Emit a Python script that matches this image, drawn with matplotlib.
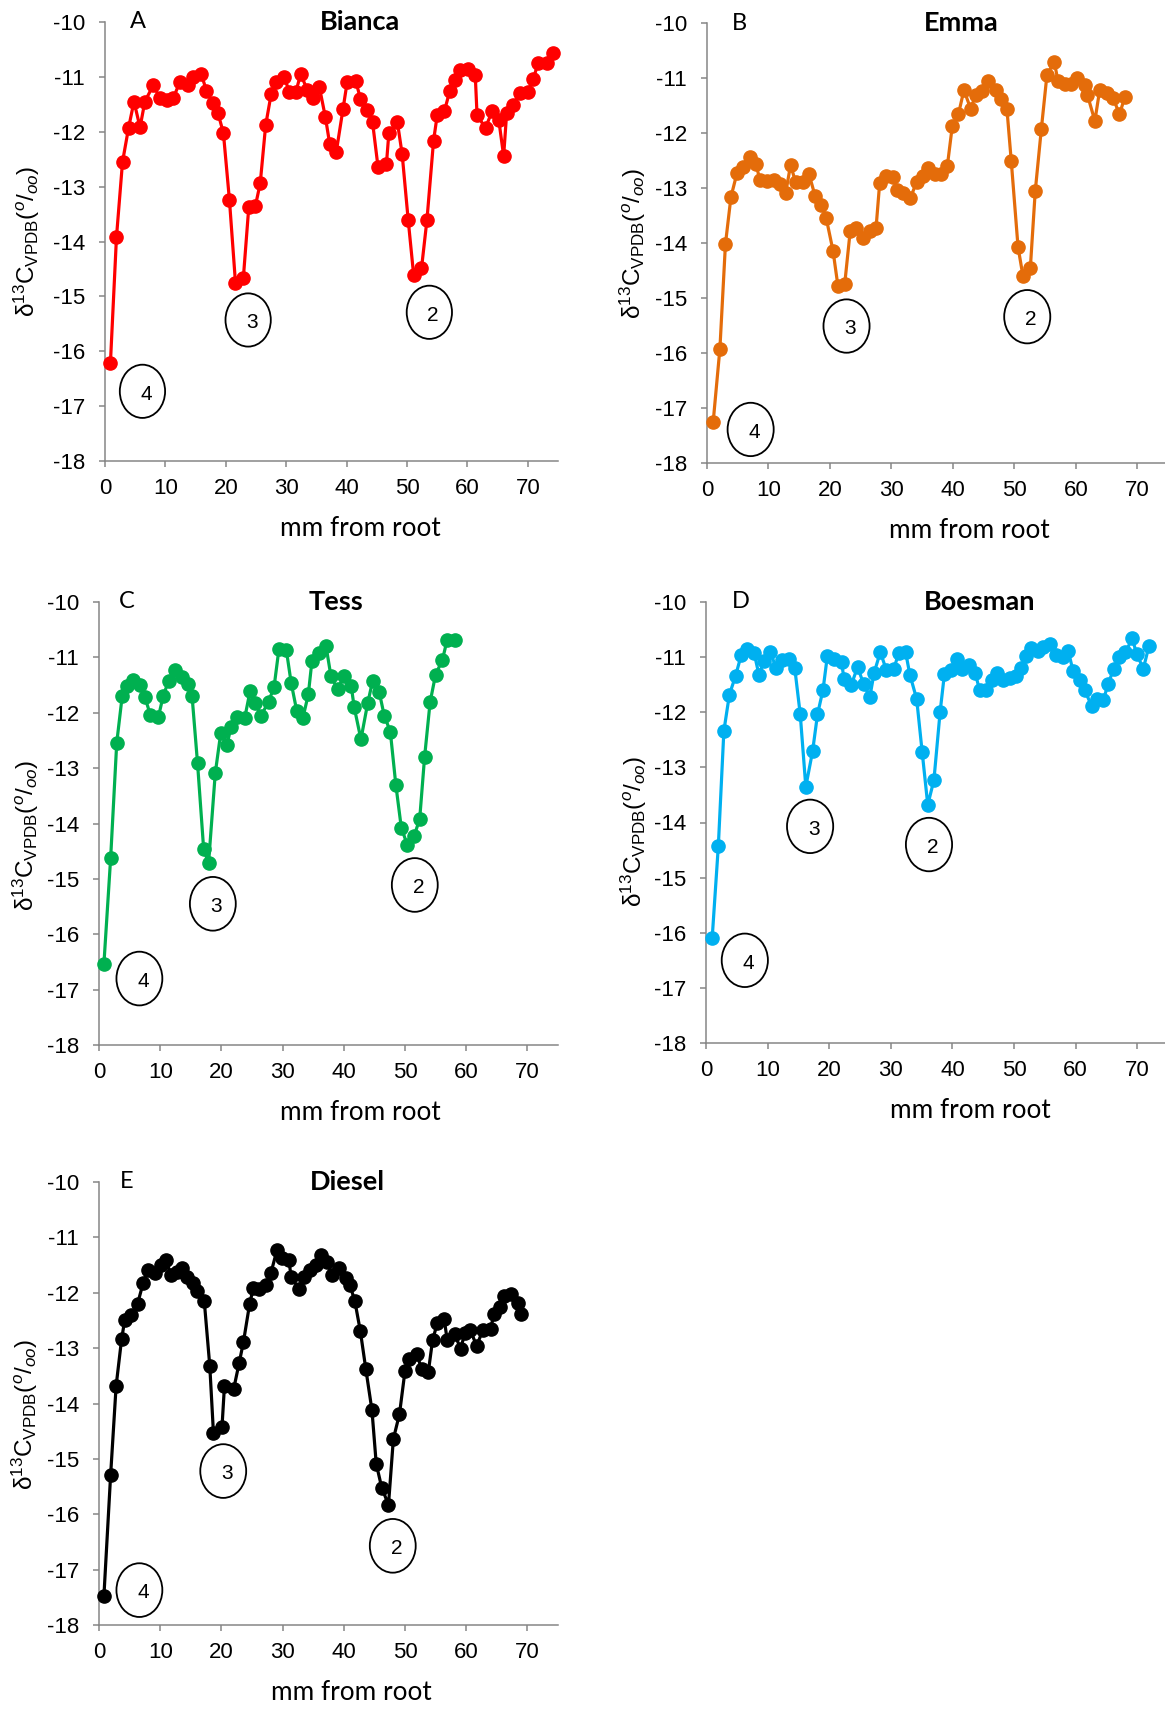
import matplotlib
matplotlib.use("Agg")
import matplotlib.pyplot as plt
from matplotlib.patches import Ellipse

plt.rcParams['mathtext.fontset'] = 'custom'
plt.rcParams['mathtext.rm'] = 'Liberation Sans'
plt.rcParams['mathtext.it'] = 'Liberation Sans:italic'
plt.rcParams['mathtext.bf'] = 'Liberation Sans:bold'
plt.rcParams['font.family'] = ['Liberation Sans', 'DejaVu Sans']

# ---- delta-13C profiles along tail hair (mm from root) ----
bianca_x = [0.9, 1.9, 2.9, 3.9, 4.8, 5.8, 6.6, 8.0, 9.1, 10.2, 11.3, 12.4, 13.7, 14.6,
            15.9, 16.8, 17.8, 18.7, 19.6, 20.6, 21.6, 22.9, 23.8, 24.9, 25.7, 26.6, 27.5,
            28.3, 29.7, 30.5, 31.6, 32.4, 33.5, 34.5, 35.5, 36.5, 37.2, 38.3, 39.4, 40.1,
            41.5, 42.3, 43.4, 44.3, 45.2, 46.6, 47.0, 48.4, 49.2, 50.2, 51.1, 52.4, 53.3,
            54.4, 55.0, 56.2, 57.1, 58.0, 58.8, 60.1, 61.3, 61.6, 63.0, 64.1, 65.2, 66.0,
            66.5, 67.6, 68.7, 70.0, 70.9, 71.7, 73.1, 74.2]
bianca_y = [-16.21, -13.92, -12.55, -11.93, -11.45, -11.92, -11.45, -11.15, -11.39, -11.42,
            -11.39, -11.09, -11.15, -11.00, -10.94, -11.25, -11.48, -11.66, -12.02, -13.24,
            -14.75, -14.67, -13.38, -13.35, -12.94, -11.88, -11.32, -11.09, -11.01, -11.27,
            -11.27, -10.95, -11.24, -11.39, -11.19, -11.74, -12.22, -12.36, -11.59, -11.09,
            -11.07, -11.40, -11.60, -11.83, -12.64, -12.58, -12.02, -11.82, -12.41, -13.61,
            -14.61, -14.49, -13.61, -12.16, -11.70, -11.62, -11.25, -11.06, -10.87, -10.86,
            -10.97, -11.70, -11.93, -11.62, -11.79, -12.44, -11.66, -11.51, -11.29, -11.27,
            -11.04, -10.75, -10.74, -10.57]

emma_x = [1.0, 2.1, 3.0, 3.9, 4.9, 5.9, 7.0, 8.0, 8.6, 9.8, 10.9, 11.8, 12.8, 13.6, 14.4,
          15.6, 16.6, 17.6, 18.6, 19.4, 20.5, 21.3, 22.4, 23.3, 24.3, 25.3, 26.5, 27.5,
          28.1, 29.2, 30.3, 30.9, 31.9, 33.1, 34.1, 35.1, 36.0, 37.1, 38.1, 39.1, 39.9,
          40.9, 41.8, 42.9, 43.7, 44.8, 45.7, 47.0, 47.9, 48.8, 49.5, 50.6, 51.4, 52.6,
          53.4, 54.4, 55.3, 56.5, 57.1, 58.2, 59.3, 60.2, 61.5, 61.9, 63.1, 63.9, 65.0,
          66.1, 67.1, 68.0]
emma_y = [-17.26, -15.92, -14.02, -13.16, -12.72, -12.61, -12.44, -12.57, -12.86, -12.87,
          -12.86, -12.92, -13.09, -12.58, -12.89, -12.89, -12.75, -13.15, -13.30, -13.55,
          -14.14, -14.78, -14.75, -13.78, -13.72, -13.90, -13.78, -13.73, -12.90, -12.78,
          -12.80, -13.03, -13.09, -13.18, -12.89, -12.78, -12.64, -12.74, -12.75, -12.60,
          -11.88, -11.66, -11.22, -11.56, -11.31, -11.23, -11.06, -11.22, -11.39, -11.57,
          -12.51, -14.07, -14.60, -14.46, -13.06, -11.92, -10.95, -10.70, -11.06, -11.10,
          -11.10, -11.00, -11.13, -11.31, -11.78, -11.21, -11.27, -11.37, -11.66, -11.34]

tess_x = [0.8, 1.9, 2.9, 3.8, 4.6, 5.6, 6.7, 7.5, 8.4, 9.7, 10.5, 11.4, 12.4, 13.5, 14.6,
          15.2, 16.1, 17.1, 17.9, 19.0, 19.9, 20.9, 21.6, 22.6, 23.8, 24.7, 25.5, 26.5,
          27.7, 28.6, 29.4, 30.6, 31.4, 32.3, 33.3, 34.2, 34.8, 35.9, 37.1, 37.9, 39.0,
          40.0, 41.2, 41.7, 42.8, 43.9, 44.7, 45.8, 46.6, 47.6, 48.5, 49.4, 50.4, 51.5,
          52.4, 53.2, 54.1, 55.0, 56.1, 56.9, 58.2]
tess_y = [-16.54, -14.63, -12.54, -11.69, -11.51, -11.40, -11.49, -11.72, -12.04, -12.08,
          -11.69, -11.42, -11.23, -11.36, -11.48, -11.69, -12.91, -14.46, -14.72, -13.09,
          -12.36, -12.58, -12.25, -12.08, -12.10, -11.60, -11.83, -12.05, -11.80, -11.54,
          -10.85, -10.86, -11.46, -11.96, -12.10, -11.67, -11.06, -10.92, -10.80, -11.34,
          -11.58, -11.34, -11.51, -11.90, -12.48, -11.83, -11.43, -11.63, -12.05, -12.34,
          -13.30, -14.08, -14.39, -14.22, -13.92, -12.80, -11.81, -11.31, -11.05, -10.68,
          -10.68]

boesman_x = [1.0, 2.0, 2.9, 3.8, 4.8, 5.7, 6.7, 7.8, 8.6, 9.4, 10.4, 11.4, 12.3, 13.5, 14.4,
             15.3, 16.2, 17.3, 18.1, 19.0, 19.7, 20.8, 22.0, 22.4, 23.6, 24.6, 25.6, 26.6,
             27.3, 28.3, 29.3, 30.5, 31.3, 32.4, 33.1, 34.2, 35.1, 36.0, 37.0, 38.0, 38.7,
             39.8, 40.7, 41.6, 42.7, 43.7, 44.4, 45.5, 46.4, 47.3, 48.2, 49.3, 50.3, 51.1,
             52.0, 52.8, 53.9, 54.7, 55.8, 56.8, 57.9, 58.8, 59.6, 60.7, 61.5, 62.6, 63.4,
             64.5, 65.3, 66.2, 67.1, 68.1, 69.2, 69.9, 71.0, 71.9]
boesman_y = [-16.10, -14.43, -12.34, -11.68, -11.34, -10.97, -10.85, -10.92, -11.32, -11.07,
             -10.91, -11.19, -11.06, -11.03, -11.19, -12.04, -13.35, -12.71, -12.04, -11.59,
             -10.98, -11.04, -11.09, -11.39, -11.50, -11.18, -11.49, -11.72, -11.28, -10.91,
             -11.24, -11.21, -10.92, -10.91, -11.32, -11.76, -12.73, -13.68, -13.23, -12.00,
             -11.31, -11.24, -11.04, -11.21, -11.15, -11.29, -11.59, -11.59, -11.42, -11.28,
             -11.41, -11.38, -11.35, -11.20, -10.98, -10.83, -10.88, -10.82, -10.77, -10.97,
             -11.00, -10.88, -11.26, -11.41, -11.60, -11.89, -11.76, -11.78, -11.48, -11.21,
             -11.00, -10.91, -10.66, -10.94, -11.21, -10.80]

diesel_x = [0.8, 1.9, 2.8, 3.7, 4.2, 5.3, 6.3, 7.2, 8.0, 9.1, 10.1, 10.9, 11.8, 12.8, 13.6,
            14.4, 15.3, 16.0, 17.2, 18.1, 18.7, 20.1, 20.5, 22.0, 22.9, 23.6, 24.6, 25.2,
            26.2, 27.3, 28.1, 29.1, 29.9, 31.0, 31.4, 32.7, 33.5, 34.4, 35.5, 36.3, 37.2,
            38.1, 39.2, 40.3, 41.0, 41.8, 42.7, 43.6, 44.6, 45.3, 46.2, 47.3, 48.1, 49.1,
            50.0, 50.6, 51.9, 52.7, 53.8, 54.5, 55.3, 56.4, 56.9, 58.1, 59.1, 59.8, 60.7,
            61.7, 62.7, 64.0, 64.5, 65.6, 66.2, 67.3, 68.5, 69.0]
diesel_y = [-17.48, -15.29, -13.68, -12.83, -12.50, -12.41, -12.20, -11.83, -11.59, -11.65,
            -11.50, -11.41, -11.68, -11.62, -11.56, -11.71, -11.83, -11.97, -12.15, -13.32,
            -14.53, -14.42, -13.68, -13.74, -13.27, -12.89, -12.21, -11.92, -11.94, -11.86,
            -11.64, -11.22, -11.38, -11.40, -11.71, -11.94, -11.71, -11.59, -11.50, -11.32,
            -11.44, -11.68, -11.55, -11.73, -11.86, -12.15, -12.69, -13.38, -14.12, -15.09,
            -15.52, -15.83, -14.64, -14.19, -13.41, -13.20, -13.10, -13.37, -13.44, -12.86,
            -12.54, -12.47, -12.86, -12.75, -13.01, -12.72, -12.68, -12.96, -12.68, -12.66,
            -12.39, -12.26, -12.06, -12.02, -12.18, -12.38]

panel_letters = ['A', 'B', 'C', 'D', 'E']
panel_names = ['Bianca', 'Emma', 'Tess', 'Boesman', 'Diesel']
series_x = [bianca_x, emma_x, tess_x, boesman_x, diesel_x]
series_y = [bianca_y, emma_y, tess_y, boesman_y, diesel_y]
series_colors = ['#FF0000', '#E46C0A', '#00B050', '#00B0F0', '#000000']

# circled event numbers (4, 3, 2) placed in data coordinates per panel
event_numbers = ['4', '3', '2']
event_pos = [
    [(6.2, -16.73), (23.7, -15.43), (53.7, -15.29)],
    [(7.1, -17.39), (22.7, -15.51), (52.1, -15.34)],
    [(6.6, -16.80), (18.6, -15.45), (51.6, -15.11)],
    [(6.3, -16.50), (16.9, -14.07), (36.2, -14.40)],
    [(6.6, -17.37), (20.3, -15.22), (48.0, -16.57)],
]

x_ticks = [0, 10, 20, 30, 40, 50, 60, 70]
y_ticks = [-18, -17, -16, -15, -14, -13, -12, -11, -10]

W, H = 1165, 1709
fig = plt.figure(figsize=(W / 100, H / 100), dpi=100)
fig.patch.set_facecolor('white')

# plot-area boxes in pixels: left, top, right, bottom
boxes = [(105, 22, 558, 461), (707, 23, 1168, 463),
         (99, 602, 558, 1045), (706, 602, 1168, 1043),
         (99, 1182, 558, 1625)]
letter_x = [5.4, 5.3, 4.6, 5.6, 4.5]
name_x = [42.3, 41.4, 38.8, 44.5, 40.6]
ylabel_yfrac = [0.5, 0.5, 0.474, 0.48, 0.476]
ylabel_xpx = [-78, -74, -73, -72, -74]
xlabel_xfrac = [0.563, 0.57, 0.569, 0.572, 0.55]

axis_grey = '#868686'
ylabel_text = r'δ$^{13}$C$_{\mathrm{VPDB}}$($^{\mathit{o}}$/$_{\mathit{oo}}$)'

for i in range(5):
    l, t, r, b = boxes[i]
    ax = fig.add_axes([l / W, 1 - b / H, (r - l) / W, (b - t) / H])
    ax.plot(series_x[i], series_y[i], '-o', color=series_colors[i], lw=2.3,
            ms=9.5, mec=series_colors[i], clip_on=False, zorder=3)
    ax.set_xlim(0, 75)
    ax.set_ylim(-18, -10)
    ax.set_xticks(x_ticks)
    ax.set_yticks(y_ticks)
    ax.set_yticklabels([str(v) for v in y_ticks])
    for s in ['top', 'right']:
        ax.spines[s].set_visible(False)
    for s in ['left', 'bottom']:
        ax.spines[s].set_color(axis_grey)
        ax.spines[s].set_linewidth(1.1)
    ax.tick_params(axis='both', direction='out', length=4.5, width=1.1,
                   color=axis_grey, labelsize=16, labelcolor='black')
    ax.tick_params(axis='y', pad=10)
    ax.tick_params(axis='x', pad=8)

    # circled event markers
    for num, (ex, ey) in zip(event_numbers, event_pos[i]):
        ax.add_patch(Ellipse((ex, ey), 7.5, 0.97, facecolor='white',
                             edgecolor='black', lw=1.3, zorder=4))
        ax.text(ex + 0.6, ey - 0.05, num, ha='center', va='center', fontsize=15,
                family='Liberation Sans', zorder=5)

    ax.text(letter_x[i], -10.0, panel_letters[i], ha='center', va='center',
            fontsize=17, family='Lato')
    ax.text(name_x[i], -10.0, panel_names[i], ha='center', va='center',
            fontsize=19.5, family='Lato', fontweight='bold')
    ax.text(xlabel_xfrac[i], -68 / (b - t), 'mm from root', transform=ax.transAxes,
            ha='center', va='center', fontsize=18.8, family='Lato')
    ax.text(ylabel_xpx[i] / (r - l), ylabel_yfrac[i], ylabel_text, transform=ax.transAxes,
            rotation=90, ha='center', va='center', fontsize=17.5)

fig.savefig('out.png', dpi=100, facecolor='white')
